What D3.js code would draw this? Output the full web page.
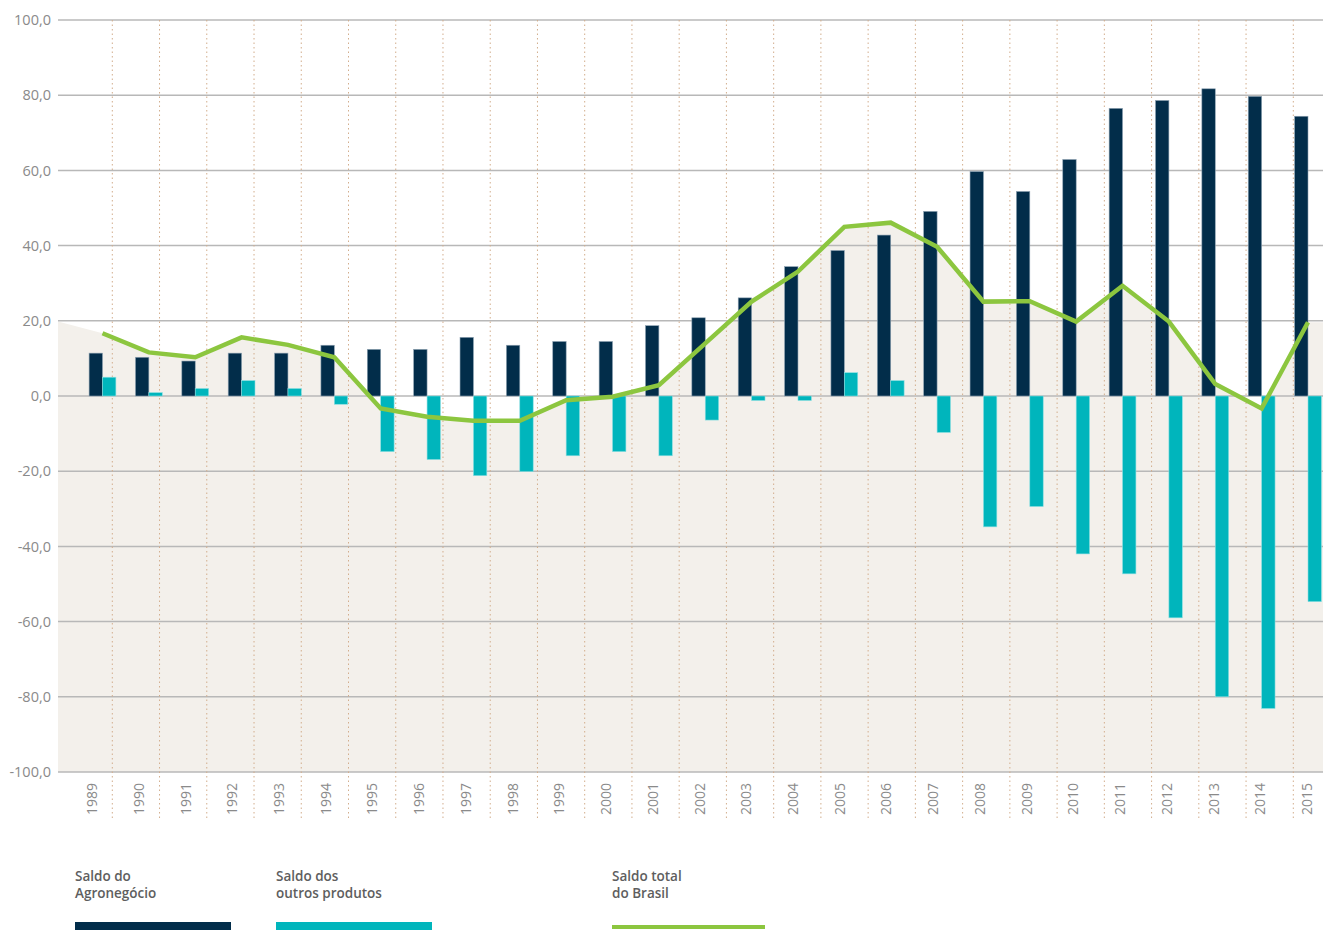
<!DOCTYPE html>
<html lang="pt">
<head>
<meta charset="UTF-8">
<title>Saldo comercial</title>
<style>
  body { margin: 0; background: #fff; }
  svg { display: block; font-family: "Open Sans", "Noto Sans", sans-serif; }
  .ylab { fill: #8a8a8a; font-size: 14.5px; }
  .xlab { fill: #8a8a8a; font-size: 14px; }
  .leg  { fill: #5e5e5e; font-size: 13.5px; font-weight: 600; }
</style>
</head>
<body>
<svg width="1323" height="930"></svg>
<script src="https://d3js.org/d3.v7.min.js"></script>
<script>
var years = [1989,1990,1991,1992,1993,1994,1995,1996,1997,1998,1999,2000,2001,2002,
             2003,2004,2005,2006,2007,2008,2009,2010,2011,2012,2013,2014,2015];

// saldo do agronegócio
var agro = [11.4,10.3,9.3,11.4,11.4,13.5,12.4,12.4,15.6,13.5,14.5,14.5,18.7,20.8,
            26.1,34.4,38.7,42.8,49.1,59.7,54.4,62.9,76.5,78.6,81.7,79.7,74.4];
// saldo dos outros produtos
var outros = [5.0,0.9,2.0,4.1,2.0,-2.2,-14.8,-16.9,-21.2,-20.1,-15.9,-14.8,-15.9,-6.4,
              -1.2,-1.2,6.2,4.1,-9.7,-34.8,-29.4,-42.0,-47.3,-59.0,-80.0,-83.1,-54.7];
// saldo total do Brasil
var total = [16.7,11.6,10.3,15.6,13.6,10.3,-3.3,-5.5,-6.6,-6.6,-1.1,-0.2,2.9,14.0,
             25.1,33.1,45.0,46.1,39.7,25.1,25.2,19.8,29.3,19.8,3.2,-3.3,19.6];
// the shaded band runs out to the plot edges
var areaLeft = 19.8, areaRight = 19.6;

var yTicks = [100,80,60,40,20,0,-20,-40,-60,-80,-100];
var legendItems = [
  {lines: ["Saldo do", "Agronegócio"], kind: "bar", color: "#022d4a"},
  {lines: ["Saldo dos", "outros produtos"], kind: "bar", color: "#00b5bc"},
  {lines: ["Saldo total", "do Brasil"], kind: "line", color: "#8cc63f"}
];

var svg = d3.select("svg"),
    plotL = 58, plotR = 1323, plotT = 20, plotB = 772;

var y = d3.scaleLinear().domain([-100, 100]).range([plotB, plotT]);
var x = d3.scalePoint().domain(years).range([102.5, 1308]);
var xLab = d3.scalePoint().domain(years).range([92, 1307]);
var xGrid = d3.scalePoint().domain(years.slice(0, -1)).range([112.3, 1293.3]);
var bw = 13.4;

var fmt = function (d) { return d3.format(".1f")(d).replace(".", ",").replace("−", "-"); };

// shaded area under the total line
var areaData = [{px: plotL, v: areaLeft}]
  .concat(years.map(function (d, i) { return {px: x(d), v: total[i]}; }))
  .concat([{px: plotR, v: areaRight}]);

svg.append("path")
    .datum(areaData)
    .attr("fill", "#f3f0eb")
    .attr("d", d3.area()
        .x(function (d) { return d.px; })
        .y0(y(-100))
        .y1(function (d) { return y(d.v); }));

// horizontal grid
svg.append("g").selectAll("line")
    .data(yTicks).enter().append("line")
    .attr("x1", plotL).attr("x2", plotR)
    .attr("y1", function (d) { return y(d); })
    .attr("y2", function (d) { return y(d); })
    .attr("stroke", "#b8b8b8")
    .attr("stroke-width", 1.5);

svg.append("g").selectAll("text")
    .data(yTicks).enter().append("text")
    .attr("class", "ylab")
    .attr("x", 51)
    .attr("y", function (d) { return y(d); })
    .attr("dy", "0.36em")
    .attr("text-anchor", "end")
    .text(fmt);

// dotted verticals
svg.append("g").selectAll("line")
    .data(xGrid.domain()).enter().append("line")
    .attr("x1", function (d) { return xGrid(d); })
    .attr("x2", function (d) { return xGrid(d); })
    .attr("y1", plotT).attr("y2", 820)
    .attr("stroke", "#d2ad8c")
    .attr("stroke-width", 1)
    .attr("stroke-dasharray", "1.5,3");

// bars
svg.append("g").selectAll("rect")
    .data(years).enter().append("rect")
    .attr("x", function (d) { return x(d) - bw; })
    .attr("width", bw)
    .attr("y", function (d, i) { return y(Math.max(0, agro[i])); })
    .attr("height", function (d, i) { return Math.abs(y(agro[i]) - y(0)); })
    .attr("fill", "#022d4a")
    .attr("stroke", "#8ea2b2").attr("stroke-width", 0.6);

svg.append("g").selectAll("rect")
    .data(years).enter().append("rect")
    .attr("x", function (d) { return x(d); })
    .attr("width", bw)
    .attr("y", function (d, i) { return y(Math.max(0, outros[i])); })
    .attr("height", function (d, i) { return Math.abs(y(outros[i]) - y(0)); })
    .attr("fill", "#00b5bc")
    .attr("stroke", "#8ddfe2").attr("stroke-width", 0.6);

// total line
svg.append("path")
    .datum(total)
    .attr("fill", "none")
    .attr("stroke", "#8cc63f")
    .attr("stroke-width", 4.5)
    .attr("stroke-linejoin", "miter")
    .attr("d", d3.line()
        .x(function (d, i) { return x(years[i]); })
        .y(function (d) { return y(d); }));

// year labels
svg.append("g").selectAll("text")
    .data(years).enter().append("text")
    .attr("class", "xlab")
    .attr("transform", function (d) { return "translate(" + xLab(d) + ",783) rotate(-90)"; })
    .attr("dy", "0.36em")
    .attr("text-anchor", "end")
    .text(function (d) { return d; });

// legend
var legX = [75, 276, 612];
var leg = svg.append("g").selectAll("g")
    .data(legendItems).enter().append("g")
    .attr("transform", function (d, i) { return "translate(" + legX[i] + ",0)"; });

leg.each(function (d) {
  var g = d3.select(this);
  d.lines.forEach(function (t, j) {
    g.append("text").attr("class", "leg")
      .attr("x", 0).attr("y", 881 + j * 17).text(t);
  });
  if (d.kind === "bar") {
    g.append("rect").attr("x", 0).attr("y", 922).attr("width", 156).attr("height", 10)
      .attr("fill", d.color);
  } else {
    g.append("line").attr("x1", 0).attr("x2", 153).attr("y1", 927).attr("y2", 927)
      .attr("stroke", d.color).attr("stroke-width", 4);
  }
});
</script>
</body>
</html>
